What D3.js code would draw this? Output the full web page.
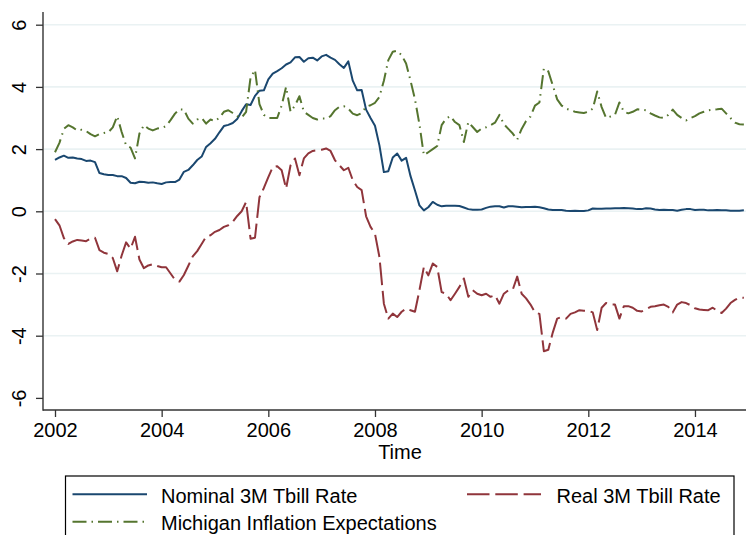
<!DOCTYPE html>
<html>
<head>
<meta charset="utf-8">
<script src="https://cdn.jsdelivr.net/npm/d3@7"></script>
<style>
  body { margin: 0; background: #fff; }
  text { font-family: "Liberation Sans", Arial, sans-serif; fill: #000; }
</style>
</head>
<body>
<script>
// monthly data, Jan 2002 .. Dec 2014
var startYear = 2002;
var nominal = [
  1.65, 1.73, 1.79, 1.72, 1.73, 1.70, 1.68, 1.62, 1.63, 1.58, 1.23, 1.19,
  1.17, 1.17, 1.13, 1.13, 1.07, 0.92, 0.90, 0.95, 0.94, 0.92, 0.93, 0.90,
  0.88, 0.93, 0.94, 0.94, 1.02, 1.27, 1.33, 1.48, 1.65, 1.76, 2.07, 2.19,
  2.33, 2.54, 2.74, 2.78, 2.84, 2.97, 3.22, 3.44, 3.42, 3.71, 3.88, 3.89,
  4.24, 4.43, 4.51, 4.60, 4.72, 4.79, 4.95, 4.96, 4.81, 4.92, 4.94, 4.85,
  4.98, 5.03, 4.94, 4.87, 4.73, 4.61, 4.82, 4.20, 3.89, 3.90, 3.27, 3.00,
  2.75, 2.12, 1.26, 1.29, 1.73, 1.86, 1.63, 1.72, 1.13, 0.67, 0.19, 0.03,
  0.13, 0.30, 0.21, 0.16, 0.18, 0.18, 0.18, 0.17, 0.12, 0.07, 0.05, 0.05,
  0.06, 0.11, 0.15, 0.16, 0.16, 0.12, 0.16, 0.16, 0.15, 0.13, 0.14, 0.14,
  0.15, 0.13, 0.10, 0.06, 0.04, 0.04, 0.04, 0.02, 0.01, 0.02, 0.01, 0.01,
  0.03, 0.09, 0.08, 0.08, 0.09, 0.09, 0.10, 0.10, 0.11, 0.10, 0.09, 0.07,
  0.07, 0.10, 0.09, 0.06, 0.04, 0.05, 0.04, 0.04, 0.02, 0.05, 0.07, 0.07,
  0.04, 0.05, 0.05, 0.03, 0.03, 0.04, 0.03, 0.03, 0.02, 0.02, 0.02, 0.03
];
var real = [
  -0.25, -0.45, -0.86, -1.05, -0.97, -0.92, -0.94, -0.96, -0.88, -0.85, -1.25, -1.33,
  -1.37, -1.50, -1.93, -1.42, -1.00, -1.20, -0.82, -1.55, -1.83, -1.74, -1.70, -1.76,
  -1.80, -1.80, -2.00, -2.20, -2.26, -2.05, -1.75, -1.45, -1.28, -1.05, -0.82, -0.77,
  -0.66, -0.60, -0.50, -0.45, -0.34, -0.15, 0.00, 0.30, -0.88, -0.85, 0.45, 0.75,
  1.10, 1.42, 1.45, 1.32, 0.73, 1.48, 1.70, 1.16, 1.70, 1.86, 1.94, 1.96,
  1.98, 2.02, 1.94, 1.64, 1.48, 1.32, 1.40, 1.00, 0.78, 0.68, -0.16, -0.50,
  -0.72, -1.47, -2.97, -3.45, -3.29, -3.40, -3.23, -3.13, -3.18, -3.23, -2.54, -1.79,
  -2.06, -1.68, -1.79, -2.60, -2.65, -2.86, -2.65, -2.43, -2.16, -2.75, -2.54, -2.65,
  -2.70, -2.65, -2.75, -2.70, -2.97, -2.65, -2.54, -2.52, -2.10, -2.65, -2.80, -3.00,
  -3.25, -3.30, -4.50, -4.45, -3.90, -3.45, -3.40, -3.45, -3.30, -3.25, -3.18, -3.20,
  -3.20, -3.25, -3.82, -3.10, -2.95, -3.00, -3.00, -3.45, -3.05, -3.05, -3.10, -3.20,
  -3.22, -3.15, -3.07, -3.05, -3.02, -3.00, -3.07, -3.25, -3.00, -2.92, -2.95, -3.02,
  -3.12, -3.16, -3.17, -3.18, -3.10, -3.20, -3.27, -3.13, -2.95, -2.85, -2.77, -2.78
];
var michigan = [
  1.90, 2.20, 2.65, 2.77, 2.70, 2.60, 2.62, 2.58, 2.48, 2.41, 2.48, 2.52,
  2.54, 2.70, 3.06, 2.55, 2.12, 2.05, 1.70, 2.50, 2.77, 2.66, 2.60, 2.66,
  2.68, 2.74, 2.93, 3.14, 3.28, 3.27, 2.98, 2.82, 2.95, 3.00, 2.82, 2.95,
  2.90, 3.01, 3.20, 3.25, 3.16, 3.06, 3.01, 3.20, 4.30, 4.55, 3.45, 3.10,
  3.00, 3.00, 3.00, 3.40, 4.00, 3.20, 3.40, 3.70, 3.20, 3.10, 3.00, 2.95,
  2.98, 2.98, 3.06, 3.25, 3.36, 3.38, 3.30, 3.14, 3.09, 3.16, 3.36, 3.41,
  3.49, 3.68, 4.20, 4.86, 5.13, 5.16, 5.02, 4.75, 4.20, 3.60, 2.80, 1.80,
  1.90, 2.00, 2.10, 2.77, 2.98, 3.06, 2.87, 2.77, 2.23, 2.87, 2.71, 2.55,
  2.66, 2.70, 2.77, 2.85, 3.10, 2.80, 2.65, 2.50, 2.30, 2.65, 2.90, 3.05,
  3.40, 3.50, 4.60, 4.50, 4.05, 3.60, 3.40, 3.30, 3.25, 3.20, 3.18, 3.16,
  3.20, 3.30, 3.85, 3.35, 3.00, 3.05, 3.10, 3.50, 3.20, 3.15, 3.20, 3.28,
  3.27, 3.25, 3.15, 3.08, 3.02, 3.00, 3.10, 3.27, 3.10, 3.00, 2.92, 3.00,
  3.06, 3.15, 3.20, 3.25, 3.27, 3.28, 3.30, 3.15, 3.00, 2.85, 2.80, 2.79
];
var xTicks = [2002, 2004, 2006, 2008, 2010, 2012, 2014];
var yTicks = [-6, -4, -2, 0, 2, 4, 6];
var labels = ["Nominal 3M Tbill Rate", "Real 3M Tbill Rate", "Michigan Inflation Expectations"];

var width = 746, height = 535;
var colors = ["#1a476f", "#90353b", "#55752f"];
var dashes = [null, "22.5,5.8", "14,5,1.5,5"];

var svg = d3.select("body").append("svg")
    .attr("width", width)
    .attr("height", height);

var x = d3.scaleLinear().domain([2002, 2015]).range([55, 748.3]);
var y = d3.scaleLinear().domain([-6, 6]).range([397.9, 24.7]);
var plotLeft = 43, plotBottom = 410, plotTop = 12;

// grid lines
svg.append("g").selectAll("line")
    .data(yTicks.filter(function(d) { return d > -6; }))
  .enter().append("line")
    .attr("x1", plotLeft + 1).attr("x2", width)
    .attr("y1", function(d) { return y(d); })
    .attr("y2", function(d) { return y(d); })
    .attr("stroke", "#eaf2f3")
    .attr("stroke-width", 1.6);

svg.append("clipPath").attr("id", "plotclip")
  .append("rect")
    .attr("x", plotLeft + 1).attr("y", plotTop)
    .attr("width", width - plotLeft).attr("height", plotBottom - plotTop);

var series = [nominal, real, michigan];
var line = d3.line()
    .x(function(d, i) { return x(startYear + i / 12); })
    .y(function(d) { return y(d); });

var plot = svg.append("g").attr("clip-path", "url(#plotclip)");
series.forEach(function(s, k) {
  plot.append("path")
      .datum(s)
      .attr("d", line)
      .attr("fill", "none")
      .attr("stroke", colors[k])
      .attr("stroke-width", 2)
      .attr("stroke-linejoin", "round")
      .attr("stroke-dasharray", dashes[k]);
});

// y axis
var yAxis = svg.append("g")
    .attr("transform", "translate(" + plotLeft + ",0)")
    .call(d3.axisLeft(y).tickValues(yTicks).tickFormat(String).tickSize(7).tickSizeOuter(0));
yAxis.select(".domain").remove();
yAxis.selectAll(".tick line").attr("stroke", "#333").attr("stroke-width", 1.3);
yAxis.selectAll(".tick text")
    .attr("x", null).attr("dy", null)
    .attr("transform", "translate(-17,0) rotate(-90)")
    .attr("text-anchor", "middle")
    .style("font-size", "20px")
    .style("font-family", "'Liberation Sans', Arial, sans-serif")
    .attr("fill", "#000");
svg.append("line")
    .attr("x1", plotLeft).attr("x2", plotLeft)
    .attr("y1", plotTop).attr("y2", plotBottom + 0.7)
    .attr("stroke", "#333").attr("stroke-width", 1.4);

// x axis
var xAxis = svg.append("g")
    .attr("transform", "translate(0," + plotBottom + ")")
    .call(d3.axisBottom(x).tickValues(xTicks).tickFormat(String).tickSize(7).tickSizeOuter(0));
xAxis.select(".domain").remove();
xAxis.selectAll(".tick line").attr("stroke", "#333").attr("stroke-width", 1.3);
xAxis.selectAll(".tick text")
    .attr("y", 27).attr("dy", null)
    .style("font-size", "20px")
    .style("font-family", "'Liberation Sans', Arial, sans-serif")
    .attr("fill", "#000");
svg.append("line")
    .attr("x1", plotLeft).attr("x2", width)
    .attr("y1", plotBottom).attr("y2", plotBottom)
    .attr("stroke", "#333").attr("stroke-width", 1.4);

svg.append("text")
    .attr("x", 400).attr("y", 459)
    .attr("text-anchor", "middle")
    .style("font-size", "20px")
    .text("Time");

// legend
svg.append("rect")
    .attr("x", 65.5).attr("y", 476)
    .attr("width", 668.5).attr("height", 80)
    .attr("fill", "none")
    .attr("stroke", "#000").attr("stroke-width", 1.2);

var legendPos = [
  {x1: 72.5, x2: 147, tx: 161, ly: 494.3, ty: 502.5},
  {x1: 467, x2: 541, tx: 556.5, ly: 494.3, ty: 502.5},
  {x1: 72.5, x2: 147, tx: 161, ly: 521.7, ty: 529.5}
];
labels.forEach(function(lab, k) {
  var p = legendPos[k];
  svg.append("line")
      .attr("x1", p.x1).attr("x2", p.x2)
      .attr("y1", p.ly).attr("y2", p.ly)
      .attr("stroke", colors[k])
      .attr("stroke-width", 2)
      .attr("stroke-dasharray", dashes[k]);
  svg.append("text")
      .attr("x", p.tx).attr("y", p.ty)
      .style("font-size", "20px")
      .text(lab);
});
</script>
</body>
</html>
